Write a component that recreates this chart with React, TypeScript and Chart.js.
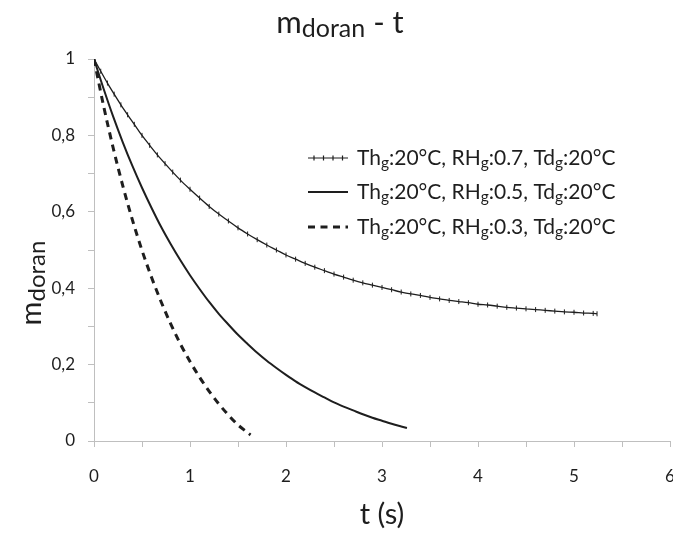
import React, { useEffect, useRef } from 'react';
import { Chart, registerables } from 'chart.js';

Chart.register(...registerables);

const FONT = 'Lato, "Open Sans", sans-serif';
const INK = '#1e1e1e';
const AXIS = '#bfbfbf';

// Series A: Th_g 20°C, RH_g 0.7, Td_g 20°C  (line with + markers)
const tA = [0, 0.07, 0.14, 0.21, 0.28, 0.35, 0.42, 0.5, 0.58, 0.66, 0.74, 0.82, 0.9, 1.0, 1.1, 1.2, 1.3, 1.4, 1.5, 1.6, 1.7, 1.8, 1.9,
  2.0, 2.1, 2.2, 2.3, 2.4, 2.5, 2.6, 2.7, 2.8, 2.9, 3.0, 3.1, 3.2, 3.3, 3.4, 3.5, 3.6, 3.7, 3.8, 3.9,
  4.0, 4.1, 4.2, 4.3, 4.4, 4.5, 4.6, 4.7, 4.8, 4.9, 5.0, 5.1, 5.2, 5.24];
const mA = [1.0, 0.968, 0.937, 0.908, 0.880, 0.854, 0.829, 0.800, 0.774, 0.749, 0.726, 0.704, 0.683, 0.659, 0.636, 0.614, 0.594, 0.576, 0.558, 0.542, 0.527, 0.513, 0.500,
  0.487, 0.476, 0.465, 0.455, 0.446, 0.437, 0.429, 0.421, 0.414, 0.408, 0.402, 0.396, 0.390, 0.385, 0.381, 0.376, 0.372, 0.368, 0.365, 0.362,
  0.358, 0.356, 0.353, 0.350, 0.348, 0.346, 0.344, 0.342, 0.340, 0.338, 0.337, 0.335, 0.334, 0.333];

// Series B: RH_g 0.5 (solid)
const tB = [0, 0.1, 0.2, 0.3, 0.4, 0.5, 0.6, 0.7, 0.8, 0.9, 1.0, 1.1, 1.2, 1.3, 1.4, 1.5, 1.6, 1.7, 1.8, 1.9,
  2.0, 2.1, 2.2, 2.3, 2.4, 2.5, 2.6, 2.7, 2.8, 2.9, 3.0, 3.1, 3.2, 3.26];
const mB = [1.0, 0.922, 0.849, 0.782, 0.720, 0.663, 0.610, 0.560, 0.515, 0.473, 0.434, 0.398, 0.364, 0.333, 0.305, 0.278, 0.254, 0.231, 0.210, 0.191,
  0.173, 0.156, 0.141, 0.127, 0.114, 0.101, 0.090, 0.080, 0.070, 0.061, 0.053, 0.045, 0.038, 0.034];

// Series C: RH_g 0.3 (dashed)
const tC = [0, 0.1, 0.2, 0.3, 0.4, 0.5, 0.6, 0.7, 0.8, 0.9, 1.0, 1.1, 1.2, 1.3, 1.4, 1.5, 1.6, 1.63];
const mC = [1.0, 0.877, 0.767, 0.668, 0.579, 0.499, 0.428, 0.364, 0.306, 0.254, 0.208, 0.167, 0.130, 0.097, 0.068, 0.042, 0.022, 0.016];

const seriesLabels = [
  'Th_{g}:20°C, RH_{g}:0.7, Td_{g}:20°C',
  'Th_{g}:20°C, RH_{g}:0.5, Td_{g}:20°C',
  'Th_{g}:20°C, RH_{g}:0.3, Td_{g}:20°C',
];
const chartTitle = 'm_{doran} - t';
const xTitle = 't (s)';
const yTitle = 'm_{doran}';
const xMin = 0, xMax = 6, xStep = 0.5;
const yMin = 0, yMax = 1, yStep = 0.1;

function parseRich(str: string) {
  const parts: { s: string; sub: boolean }[] = [];
  const re = /_\{([^}]*)\}/g;
  let last = 0;
  let m: RegExpExecArray | null;
  while ((m = re.exec(str))) {
    if (m.index > last) parts.push({ s: str.slice(last, m.index), sub: false });
    parts.push({ s: m[1], sub: true });
    last = re.lastIndex;
  }
  if (last < str.length) parts.push({ s: str.slice(last), sub: false });
  return parts;
}

function drawRich(ctx: CanvasRenderingContext2D, str: string, x: number, y: number, size: number, subSize: number, subShift: number, align: 'left' | 'center') {
  const parts = parseRich(str);
  let total = 0;
  const widths: number[] = [];
  for (const p of parts) {
    ctx.font = `${p.sub ? subSize : size}px ${FONT}`;
    const w = ctx.measureText(p.s).width;
    widths.push(w);
    total += w;
  }
  let cx = align === 'center' ? x - total / 2 : x;
  ctx.textAlign = 'left';
  ctx.textBaseline = 'alphabetic';
  parts.forEach((p, i) => {
    ctx.font = `${p.sub ? subSize : size}px ${FONT}`;
    ctx.fillText(p.s, cx, y + (p.sub ? subShift : 0));
    cx += widths[i];
  });
}

const decorPlugin = {
  id: 'decor',
  afterDraw(chart: any) {
    const ctx: CanvasRenderingContext2D = chart.ctx;
    const area = chart.chartArea;
    ctx.save();
    ctx.fillStyle = INK;
    // title
    drawRich(ctx, chartTitle, 340, 33, 31, 25, 4, 'center');
    // x title
    drawRich(ctx, xTitle, (area.left + area.right) / 2, 524, 29, 24, 4, 'center');
    // y title
    ctx.save();
    ctx.translate(41, 283);
    ctx.rotate(-Math.PI / 2);
    drawRich(ctx, yTitle, 0, 0, 29, 24, 4, 'center');
    ctx.restore();

    // legend
    const rows = [158, 192, 227];
    const x0 = 308, x1 = 348, tx = 357;
    rows.forEach((ry, i) => {
      ctx.strokeStyle = INK;
      ctx.setLineDash([]);
      if (i === 0) {
        ctx.lineWidth = 1.2;
        ctx.beginPath(); ctx.moveTo(x0, ry); ctx.lineTo(x1, ry); ctx.stroke();
        for (let k = 0; k < 4; k++) {
          const px = x0 + 6 + k * 9.5;
          ctx.beginPath(); ctx.moveTo(px, ry - 2.5); ctx.lineTo(px, ry + 2.5); ctx.stroke();
        }
      } else if (i === 1) {
        ctx.lineWidth = 2;
        ctx.beginPath(); ctx.moveTo(x0, ry); ctx.lineTo(x1, ry); ctx.stroke();
      } else {
        ctx.lineWidth = 3;
        ctx.setLineDash([7, 5.5]);
        ctx.beginPath(); ctx.moveTo(x0, ry); ctx.lineTo(x1, ry); ctx.stroke();
        ctx.setLineDash([]);
      }
      ctx.fillStyle = INK;
      drawRich(ctx, seriesLabels[i], tx, ry + 7, 21, 15.5, 3, 'left');
    });
    ctx.restore();
  },
};

function toPts(ts: number[], ms: number[]) {
  return ts.map((t, i) => ({ x: t, y: ms[i] }));
}

export default function App() {
  const ref = useRef<HTMLCanvasElement | null>(null);
  useEffect(() => {
    if (!ref.current) return;
    const chart = new Chart(ref.current, {
      type: 'line',
      data: {
        datasets: [
          {
            label: seriesLabels[0],
            data: toPts(tA, mA),
            borderColor: INK,
            backgroundColor: INK,
            borderWidth: 1.3,
            pointStyle: 'line',
            rotation: 90,
            pointRadius: 2.5,
            pointBorderWidth: 1,
            pointBorderColor: INK,
            cubicInterpolationMode: 'monotone',
          },
          {
            label: seriesLabels[1],
            data: toPts(tB, mB),
            borderColor: INK,
            borderWidth: 2,
            pointRadius: 0,
            cubicInterpolationMode: 'monotone',
          },
          {
            label: seriesLabels[2],
            data: toPts(tC, mC),
            borderColor: INK,
            borderWidth: 3,
            borderDash: [7, 5.5],
            pointRadius: 0,
            cubicInterpolationMode: 'monotone',
          },
        ],
      },
      options: {
        animation: false,
        responsive: false,
        events: [],
        layout: { padding: { left: 0, top: 59, right: 30, bottom: 0 } },
        plugins: { legend: { display: false }, title: { display: false }, tooltip: { enabled: false } },
        scales: {
          x: {
            type: 'linear',
            min: xMin,
            max: xMax,
            afterFit: (s: any) => { s.height = 92; },
            ticks: {
              stepSize: xStep,
              autoSkip: false,
              maxRotation: 0,
              padding: 19,
              color: INK,
              font: { family: FONT, size: 17 },
              callback: (v: any) => (Math.abs(v - Math.round(v)) < 1e-6 ? String(Math.round(v)) : ''),
            },
            grid: { drawOnChartArea: false, drawTicks: true, tickLength: 6, color: AXIS },
            border: { color: AXIS, width: 1 },
          },
          y: {
            type: 'linear',
            min: yMin,
            max: yMax,
            afterFit: (s: any) => { s.width = 94; },
            ticks: {
              stepSize: yStep,
              autoSkip: false,
              padding: 13,
              color: INK,
              font: { family: FONT, size: 17 },
              callback: (v: any) => {
                const k = Math.round(v * 10);
                if (k % 2 !== 0) return '';
                if (k === 0) return '0';
                if (k === 10) return '1';
                return (k / 10).toFixed(1).replace('.', ',');
              },
            },
            grid: { drawOnChartArea: false, drawTicks: true, tickLength: 6, color: AXIS },
            border: { color: AXIS, width: 1 },
          },
        },
      },
      plugins: [decorPlugin],
    } as any);
    return () => chart.destroy();
  }, []);
  return (
    <div style={{ position: 'fixed', left: 0, top: 0, width: 673, height: 533, overflow: 'hidden', background: '#fff' }}>
      <canvas ref={ref} width={700} height={533} style={{ display: 'block' }} />
    </div>
  );
}
